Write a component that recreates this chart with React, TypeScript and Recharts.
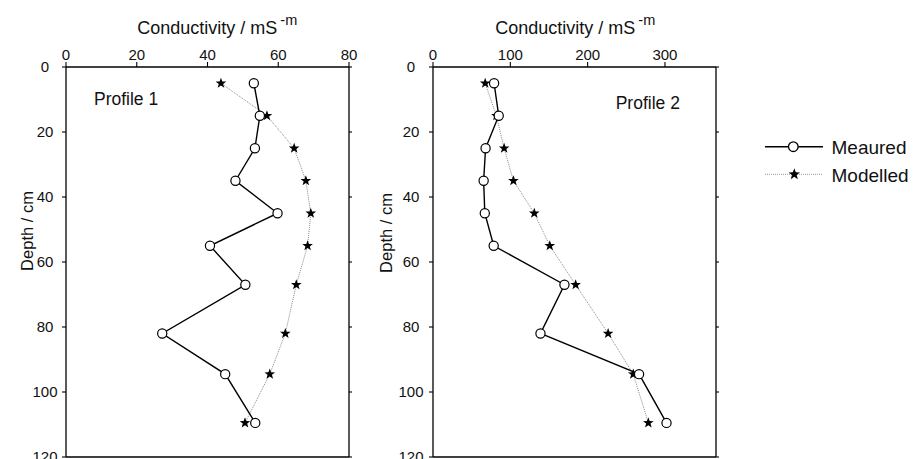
import React from "react";
import { ScatterChart, Scatter, XAxis, YAxis, Legend } from "recharts";

// depth of each sample (cm), shared by both profiles
const depths = [5, 15, 25, 35, 45, 55, 67, 82, 94.5, 109.5];

const profile1Measured = [53.1, 54.8, 53.4, 47.9, 59.8, 40.7, 50.7, 27.2, 45.0, 53.5];
const profile1Modelled = [43.8, 56.8, 64.5, 67.8, 69.2, 68.3, 65.1, 62.0, 57.6, 50.6];

const profile2Measured = [79, 85, 68, 65.5, 67, 78.5, 170, 139, 266.5, 302];
const profile2Modelled = [67.5, 82, 92, 104, 131, 151, 184.5, 226.5, 259, 278.5];

const depthTicks = [0, 20, 40, 60, 80, 100, 120];
const profile1Ticks = [0, 20, 40, 60, 80];
const profile2Ticks = [0, 100, 200, 300];
const profile2BottomTicks = [0, 100, 200, 300, 400];

const FONT = "'Liberation Sans', Arial, sans-serif";

const toPoints = (xs: number[]) => xs.map((x, i) => ({ x, y: depths[i] }));

const starPath = (cx: number, cy: number, R: number, r: number) => {
  let d = "";
  for (let i = 0; i < 10; i++) {
    const rad = i % 2 === 0 ? R : r;
    const a = -Math.PI / 2 + (i * Math.PI) / 5;
    d += `${i === 0 ? "M" : "L"}${cx + rad * Math.cos(a)},${cy + rad * Math.sin(a)}`;
  }
  return d + "Z";
};

const OpenCircle = (props: any) => (
  <circle cx={props.cx} cy={props.cy} r={4.6} fill="#fff" stroke="#000" strokeWidth={1.2} />
);

const Star = (props: any) => <path d={starPath(props.cx, props.cy, 5.6, 2.3)} fill="#000" />;

const TopTick = (props: any) => (
  <text x={props.x} y={props.y} textAnchor="middle" fontSize={15} fontFamily={FONT} fill="#111">
    {props.payload.value}
  </text>
);

const LeftTick = (props: any) => (
  <text x={props.x} y={props.y} dy={5.3} textAnchor="middle" fontSize={15} fontFamily={FONT} fill="#111">
    {props.payload.value}
  </text>
);

const NoTick = () => <g />;

const axisLine = { stroke: "#000", strokeWidth: 1.3 };
const tickLine = { stroke: "#000", strokeWidth: 1.1 };

const Title = ({ x }: { x: number }) => (
  <text x={x} y={33.5} fontSize={18} fontFamily={FONT} fill="#111">
    Conductivity / mS
    <tspan dx={3} dy={-8.5} fontSize={14.5}>
      -m
    </tspan>
  </text>
);

const DepthLabel = ({ x, y }: { x: number; y: number }) => (
  <text
    x={x}
    y={y}
    transform={`rotate(-90 ${x} ${y})`}
    textAnchor="middle"
    dominantBaseline="central"
    fontSize={16.5}
    fontFamily={FONT}
    fill="#111"
  >
    Depth / cm
  </text>
);

const LegendBox = () => (
  <svg width={160} height={66} style={{ display: "block" }}>
    <line x1={5} y1={16.7} x2={63} y2={16.7} stroke="#000" strokeWidth={1.5} />
    <circle cx={33.3} cy={16.7} r={4.8} fill="#fff" stroke="#000" strokeWidth={1.3} />
    <text x={71.5} y={23.5} fontSize={19} fontFamily={FONT} fill="#111">
      Meaured
    </text>
    <line x1={5} y1={44.3} x2={63} y2={44.3} stroke="#999" strokeWidth={1} strokeDasharray="1 1" />
    <path d={starPath(34.3, 44.3, 6, 2.5)} fill="#000" />
    <text x={71.5} y={51.5} fontSize={19} fontFamily={FONT} fill="#111">
      Modelled
    </text>
  </svg>
);

const measuredLine = { stroke: "#000", strokeWidth: 1.4 };
const modelledLine = { stroke: "#8a8a8a", strokeWidth: 1, strokeDasharray: "1 1" };

export default function App() {
  return (
    <div
      style={{
        position: "absolute",
        left: 0,
        top: 0,
        width: 914,
        height: 459,
        overflow: "hidden",
        background: "#fff",
        fontFamily: FONT,
      }}
    >
      <div style={{ position: "absolute", left: 0, top: 0 }}>
        <ScatterChart width={380} height={470} margin={{ top: 0, right: 0, bottom: 0, left: 0 }}>
          <XAxis
            xAxisId="top"
            orientation="top"
            type="number"
            dataKey="x"
            domain={[0, 80]}
            ticks={profile1Ticks}
            interval={0}
            allowDataOverflow
            height={67}
            tickSize={5}
            tickMargin={2}
            tick={<TopTick />}
            axisLine={axisLine}
            tickLine={tickLine}
          />
          <XAxis
            xAxisId="bottom"
            orientation="bottom"
            type="number"
            domain={[0, 80]}
            ticks={profile1Ticks}
            interval={0}
            allowDataOverflow
            height={13}
            tickSize={5}
            tick={<NoTick />}
            axisLine={axisLine}
            tickLine={tickLine}
          />
          <YAxis
            yAxisId="left"
            type="number"
            dataKey="y"
            domain={[0, 120]}
            reversed
            ticks={depthTicks}
            interval={0}
            allowDataOverflow
            width={66}
            tickSize={4}
            tickMargin={17}
            tick={<LeftTick />}
            axisLine={axisLine}
            tickLine={tickLine}
          />
          <YAxis
            yAxisId="right"
            orientation="right"
            type="number"
            domain={[0, 120]}
            reversed
            ticks={depthTicks}
            interval={0}
            allowDataOverflow
            width={31}
            tickSize={3}
            tick={<NoTick />}
            axisLine={axisLine}
            tickLine={tickLine}
          />
          <Scatter
            name="Modelled"
            data={toPoints(profile1Modelled)}
            xAxisId="top"
            yAxisId="left"
            line={modelledLine}
            lineType="joint"
            shape={<Star />}
            isAnimationActive={false}
          />
          <Scatter
            name="Meaured"
            data={toPoints(profile1Measured)}
            xAxisId="top"
            yAxisId="left"
            line={measuredLine}
            lineType="joint"
            shape={<OpenCircle />}
            isAnimationActive={false}
          />
          <Title x={137.3} />
          <DepthLabel x={26.5} y={231} />
          <text x={94} y={105} fontSize={17.5} fontFamily={FONT} fill="#111">
            Profile 1
          </text>
        </ScatterChart>
      </div>
      <div style={{ position: "absolute", left: 360, top: 0 }}>
        <ScatterChart width={554} height={470} margin={{ top: 0, right: 0, bottom: 0, left: 0 }}>
          <XAxis
            xAxisId="top"
            orientation="top"
            type="number"
            dataKey="x"
            domain={[0, 366]}
            ticks={profile2Ticks}
            interval={0}
            allowDataOverflow
            height={67}
            tickSize={5}
            tickMargin={2}
            tick={<TopTick />}
            axisLine={axisLine}
            tickLine={tickLine}
          />
          <XAxis
            xAxisId="bottom"
            orientation="bottom"
            type="number"
            domain={[0, 400]}
            ticks={profile2BottomTicks}
            interval={0}
            allowDataOverflow
            height={13}
            tickSize={5}
            tick={<NoTick />}
            axisLine={axisLine}
            tickLine={tickLine}
          />
          <YAxis
            yAxisId="left"
            type="number"
            dataKey="y"
            domain={[0, 120]}
            reversed
            ticks={depthTicks}
            interval={0}
            allowDataOverflow
            width={73}
            tickSize={4}
            tickMargin={18}
            tick={<LeftTick />}
            axisLine={axisLine}
            tickLine={tickLine}
          />
          <YAxis
            yAxisId="right"
            orientation="right"
            type="number"
            domain={[0, 120]}
            reversed
            ticks={depthTicks}
            interval={0}
            allowDataOverflow
            width={198}
            tickSize={3}
            tick={<NoTick />}
            axisLine={axisLine}
            tickLine={tickLine}
          />
          <Scatter
            name="Modelled"
            data={toPoints(profile2Modelled)}
            xAxisId="top"
            yAxisId="left"
            line={modelledLine}
            lineType="joint"
            shape={<Star />}
            isAnimationActive={false}
          />
          <Scatter
            name="Meaured"
            data={toPoints(profile2Measured)}
            xAxisId="top"
            yAxisId="left"
            line={measuredLine}
            lineType="joint"
            shape={<OpenCircle />}
            isAnimationActive={false}
          />
          <Legend
            layout="horizontal"
            verticalAlign="middle"
            align="center"
            content={<LegendBox />}
            wrapperStyle={{ position: "absolute", left: 400, top: 130, width: 160, height: 66, margin: 0 }}
          />
          <Title x={135.3} />
          <DepthLabel x={26} y={233} />
          <text x={255.7} y={109} fontSize={17.5} fontFamily={FONT} fill="#111">
            Profile 2
          </text>
        </ScatterChart>
      </div>
    </div>
  );
}
